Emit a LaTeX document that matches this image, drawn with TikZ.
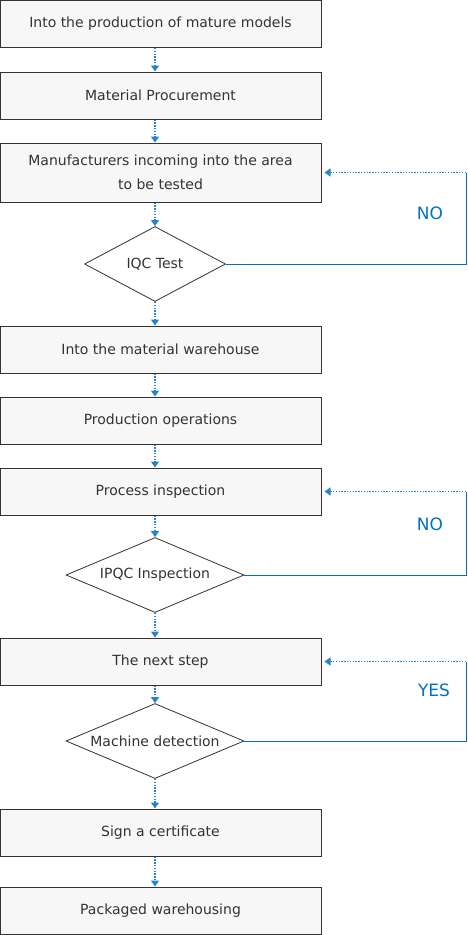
\documentclass[tikz,border=0pt]{standalone}
\usepackage{fontspec}
\setmainfont{DejaVu Sans}
\usetikzlibrary{positioning,arrows.meta,shapes.geometric,calc}
\definecolor{flowblue}{RGB}{0,112,192}
\definecolor{boxfill}{RGB}{247,247,247}
\definecolor{boxline}{RGB}{51,51,51}
\tikzset{
  stepbox/.style = {draw=boxline, fill=boxfill, line width=1pt, align=center,
                    minimum width=321pt, minimum height=47pt, inner sep=0pt,
                    text=boxline, font=\fontsize{14}{24}\selectfont},
  check/.style   = {draw=boxline, fill=white, diamond, aspect=2.4, line width=0.8pt,
                    minimum height=75pt, inner sep=0pt, text=boxline,
                    font=\fontsize{14}{16}\selectfont},
  flow/.style    = {flowblue!85, line width=1.2pt, dash pattern=on 1.4pt off 1.4pt,
                    -{Triangle[width=8pt,length=6pt]}},
  back/.style    = {flowblue, line width=1pt},
  ans/.style     = {text=flowblue, font=\fontsize{17}{17}\selectfont},
}

\begin{document}
\begin{tikzpicture}[x=1pt, y=-1pt]
\useasboundingbox (0,0) rectangle (468,935);

\coordinate (col) at (155,0);

% main column
\node[stepbox] (mature)  at (160.5,24)    {Into the production of mature models};
\node[stepbox] (procure) at (160.5,95.5)  {Material Procurement};
\node[stepbox, minimum height=59pt] (incoming) at (160.5,172.5)
     {Manufacturers incoming into the area\\to be tested};
\node[check, minimum width=141pt] (iqc) at (155,264) {IQC Test};
\node[stepbox] (store)   at (160.5,349.5) {Into the material warehouse};
\node[stepbox] (produce) at (160.5,420.5) {Production operations};
\node[stepbox] (process) at (160.5,491.5) {Process inspection};
\node[check, minimum width=178pt] (ipqc) at (155,575) {IPQC Inspection};
\node[stepbox] (next)    at (160.5,661.5) {The next step};
\node[check, minimum width=178pt] (machine) at (155,741) {Machine detection};
\node[stepbox] (cert)    at (160.5,832.5) {Sign a certificate};
\node[stepbox] (pack)    at (160.5,910.5) {Packaged warehousing};

\draw[flow] (mature.south -| col)   -- (procure.north -| col);
\draw[flow] (procure.south -| col)  -- (incoming.north -| col);
\draw[flow] (incoming.south -| col) -- (iqc.north);
\draw[flow] (iqc.south)             -- (store.north -| col);
\draw[flow] (store.south -| col)    -- (produce.north -| col);
\draw[flow] (produce.south -| col)  -- (process.north -| col);
\draw[flow] (process.south -| col)  -- (ipqc.north);
\draw[flow] (ipqc.south)            -- (next.north -| col);
\draw[flow] (next.south -| col)     -- (machine.north);
\draw[flow] (machine.south)         -- (cert.north -| col);
\draw[flow] (cert.south -| col)     -- (pack.north -| col);

% feedback loops
\coordinate (r1) at (466,264);
\coordinate (r2) at (466,575);
\coordinate (r3) at (466,741);

\draw[back] (iqc.east) -- (r1) -- (r1 |- incoming.east);
\draw[flow] (r1 |- incoming.east) -- ([xshift=3pt]incoming.east);
\node[ans] (no1) at (430,213) {NO};

\draw[back] (ipqc.east) -- (r2) -- (r2 |- process.east);
\draw[flow] (r2 |- process.east) -- ([xshift=3pt]process.east);
\node[ans] (no2) at (430,524) {NO};

\draw[back] (machine.east) -- (r3) -- (r3 |- next.east);
\draw[flow] (r3 |- next.east) -- ([xshift=3pt]next.east);
\node[ans] (yes) at (434,690) {YES};
\end{tikzpicture}
\end{document}
